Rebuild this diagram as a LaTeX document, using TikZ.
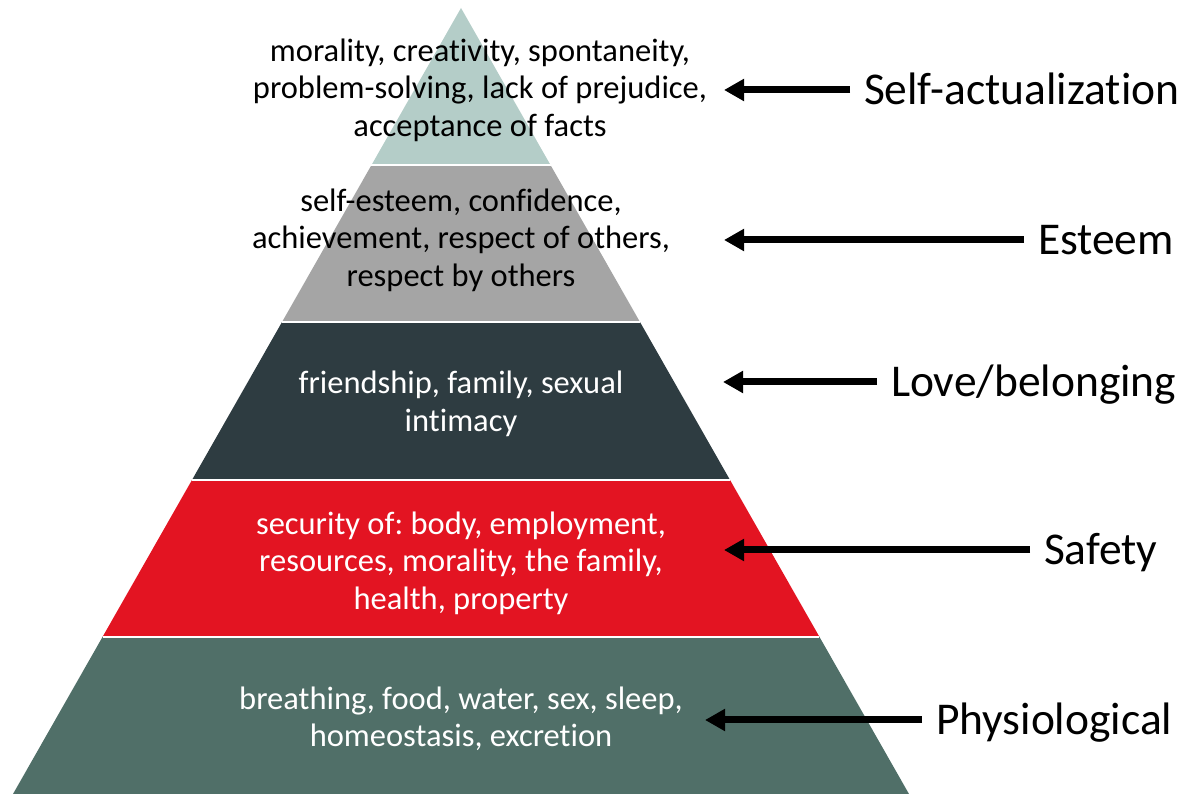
\documentclass[tikz,border=0pt]{standalone}
\usepackage{fontspec}
\setmainfont{Carlito}[Ligatures=CommonOff]
\frenchspacing
\usetikzlibrary{arrows.meta,positioning,calc}

\definecolor{topcol}{HTML}{B4CDC8}
\definecolor{estcol}{HTML}{A5A5A5}
\definecolor{lovecol}{HTML}{2E3C41}
\definecolor{safecol}{HTML}{E31422}
\definecolor{physcol}{HTML}{506F68}

\tikzset{
  layertext/.style={inner sep=0pt, align=center, font=\fontsize{32.5}{37.5}\selectfont},
  levelname/.style={anchor=west, inner sep=0pt, outer xsep=14pt, text height=29pt, text depth=0pt, font=\fontsize{45.5}{50}\selectfont},
  needarrow/.style={-{Triangle[length=20pt,width=21pt]}, line width=7pt}
}

\begin{document}
\begin{tikzpicture}[x=1pt,y=1pt]
\useasboundingbox (0,0) rectangle (1182,794);

% Pyramid outline
\coordinate (apex) at (461,786);
\coordinate (bl) at (13,0);
\coordinate (br) at (909,0);

% Five layers, top to bottom
\foreach \i/\col in {0/topcol,1/estcol,2/lovecol,3/safecol,4/physcol} {
  \pgfmathsetmacro{\ta}{\i*0.2}
  \pgfmathsetmacro{\tb}{(\i+1)*0.2}
  \fill[\col] ($(apex)!\ta!(bl)$) -- ($(apex)!\ta!(br)$) -- ($(apex)!\tb!(br)$) -- ($(apex)!\tb!(bl)$) -- cycle;
}

% White gaps between layers
\foreach \t in {0.2,0.4,0.6,0.8} {
  \draw[white, line width=2pt] ($(apex)!\t!(bl)$) -- ($(apex)!\t!(br)$);
}

% Layer contents
\node[layertext] (selftext) at (480,704) {morality, creativity, spontaneity,\\problem-solving, lack of prejudice,\\acceptance of facts};
\node[layertext] (esttext) at (461,554) {self-esteem, confidence,\\achievement, respect of others,\\respect by others};
\node[layertext, text=white] (lovetext) at (461,390) {friendship, family, sexual\\intimacy};
\node[layertext, text=white] (safetext) at (461,231) {security of: body, employment,\\resources, morality, the family,\\health, property};
\node[layertext, text=white] (phystext) at (461,75) {breathing, food, water, sex, sleep,\\homeostasis, excretion};

% Level names
\node[levelname] (selfname) at (850,704) {Self-actualization};
\node[levelname] (estname) at (1024,554) {Esteem};
\node[levelname] (lovename) at (877,412) {Love/belonging};
\node[levelname] (safename) at (1030,244) {Safety};
\node[levelname] (physname) at (922,74) {Physiological};

% Arrow tips
\coordinate (selftip) at (724,704);
\coordinate (esttip) at (724,554);
\coordinate (lovetip) at (723,412);
\coordinate (safetip) at (724,244);
\coordinate (phystip) at (705,74);

% Arrows
\foreach \n in {self,est,love,safe,phys} {
  \draw[needarrow] (\n name.west) -- (\n tip |- \n name.west);
}

\end{tikzpicture}
\end{document}
